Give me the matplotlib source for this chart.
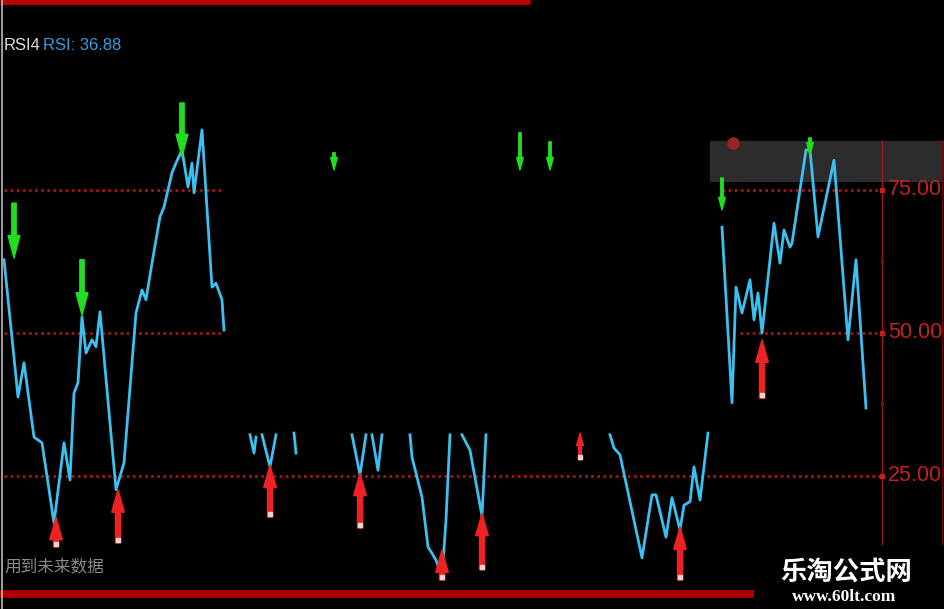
import numpy as np
import matplotlib
matplotlib.use('Agg')
from matplotlib import pyplot as plt
from matplotlib.patches import Rectangle

# RSI 折线 (每段之间断开)
seg_x = [
    [2, 8, 9, 12, 17, 21, 27, 32, 35, 37, 39, 41, 43, 46, 48, 50, 58, 62, 68, 71, 73, 76,
     80, 82, 86, 88, 91, 94, 96, 97, 101, 106, 108, 111, 112],
    [125, 127, 128],
    [131, 135, 138],
    [147, 148],
    [176, 180, 183],
    [186, 189, 191],
    [205, 206, 211, 214, 216, 218, 221, 223, 225],
    [231, 235, 241, 243],
    [305, 307, 310, 321, 326, 328, 333, 336, 340, 342, 345, 347, 350, 354],
    [361, 366, 368, 371, 375, 377, 379, 381, 387, 390, 392, 395, 396, 403, 405, 409, 417,
     424, 428, 433],
]
seg_y = [
    [62.8, 42.3, 38.8, 44.8, 31.8, 30.8, 16.8, 30.8, 24.3, 39.5, 41.3, 52.8, 46.5, 48.8, 47.6,
     53.7, 22.6, 27.3, 53.5, 57.5, 55.8, 62.2, 70.3, 72.0, 78.0, 79.7, 82.0, 75.5, 79.7, 74.5,
     85.5, 58.0, 58.7, 55.8, 50.5],
    [32.2, 29.0, 31.8],
    [32.2, 26.6, 32.2],
    [32.5, 29.0],
    [32.2, 25.2, 32.2],
    [32.2, 26.0, 32.2],
    [32.2, 28.3, 21.3, 12.6, 11.5, 10.3, 7.3, 17.3, 32.2],
    [32.2, 29.5, 18.0, 32.2],
    [32.2, 29.9, 28.7, 10.7, 21.7, 21.7, 14.3, 21.2, 15.6, 19.9, 20.5, 26.6, 20.8, 32.5],
    [68.5, 37.8, 58.0, 53.5, 59.3, 52.3, 57.0, 50.0, 69.2, 62.2, 68.0, 65.0, 65.7, 82.0, 82.0,
     66.8, 80.2, 48.8, 62.8, 36.88],
]

# 买入(红色向上) / 卖出(绿色向下) 箭头
buy_x = [28, 59, 135, 180, 221, 241, 290, 340, 381]
buy_tip = [17.8, 22.6, 26.9, 25.5, 12.1, 18.5, 32.5, 16.1, 48.8]
buy_tail = [12.6, 13.3, 17.8, 15.9, 6.8, 8.6, 27.8, 6.8, 38.6]

sell_x = [7, 41, 91, 167, 260, 275, 361, 405]
sell_tail = [72.7, 62.8, 90.2, 81.5, 85.0, 83.4, 77.1, 84.1]
sell_tip = [63.1, 53.1, 80.8, 78.5, 78.5, 78.5, 71.5, 81.1]

levels = [75, 50, 25]
level_labels = ['75.00', '50.00', '25.00']
last_rsi = 36.88

fig = plt.figure(figsize=(9.45, 6.09), dpi=100)
fig.patch.set_facecolor('black')
ax = fig.add_axes([0, 0, 1, 1])
ax.set_xlim(0, 472.5)
ax.set_ylim(1.75, 108.2)
ax.axis('off')

dred = '#a01818'
dots = (0, (1, 1.2))

# 参考线
ax.hlines(75, 2, 112, colors=dred, lw=2, linestyles=dots)
ax.hlines(75, 361, 441, colors=dred, lw=2, linestyles=dots)
ax.hlines(50, 2, 112, colors=dred, lw=2, linestyles=dots)
ax.hlines(50, 370, 441, colors=dred, lw=2, linestyles=dots)
ax.hlines(25, 2, 441, colors=dred, lw=2, linestyles=dots)

# 右侧坐标
ax.vlines(441, 12.9, 83.7, colors=dred, lw=1)
ax.vlines(471, 12.9, 83.7, colors='#5a0c0c', lw=1)
ax.plot([441] * 3, levels, 's', color='#c02020', ms=3)
ax.plot([441, 441], [62.5, 37.5], 's', color='#701010', ms=2)
for lv, lb in zip(levels, level_labels):
    ax.text(444, lv, lb, color='#c22222', fontsize=15.5, va='center', ha='left',
            family=['Liberation Sans', 'DejaVu Sans'])

# 顶部灰色区
ax.add_patch(Rectangle((355, 76.6), 117.5, 7, color='#2c2c2c', zorder=1))
gx = np.arange(380, 470, 8)
ax.plot(gx, [83.2] * len(gx), 's', color='#5a1515', ms=2, zorder=2)
ax.plot([366.5], [83.2], 'o', color='#9a2424', ms=8, zorder=2)

# 红色粗线
ax.hlines(107.8, 0, 265, colors='#c00000', lw=3.5)
ax.hlines(4.4, 0, 377, colors='#b00000', lw=5.5)
ax.vlines(1, 1.75, 108.2, colors='#bbbbbb', lw=1.2)

# RSI 线
for xs, ys in zip(seg_x, seg_y):
    ax.plot(xs, ys, color='#3cc0f0', lw=2.0, zorder=3)

# 箭头
for x, t0, t1 in zip(buy_x, buy_tail, buy_tip):
    ms = 9 if abs(t1 - t0) > 5 else 5
    ax.annotate('', xy=(x, t1), xytext=(x, t0),
                arrowprops=dict(arrowstyle='simple,head_length=1.8,head_width=1.0,tail_width=0.4',
                                color='#ee2222', shrinkA=0, shrinkB=0, mutation_scale=ms), zorder=4)
    ax.plot([x], [t0 + 0.5], 's', color='#f0d0d0', ms=3, zorder=5)

for x, t0, t1 in zip(sell_x, sell_tail, sell_tip):
    ms = 9 if abs(t1 - t0) > 7 else 5
    ax.annotate('', xy=(x, t1), xytext=(x, t0),
                arrowprops=dict(arrowstyle='simple,head_length=1.8,head_width=0.95,tail_width=0.35',
                                color='#22dd22', shrinkA=0, shrinkB=0, mutation_scale=ms), zorder=4)

# 文字
ax.text(0.004, 0.925, 'RSI4', transform=ax.transAxes, color='#dddddd', fontsize=12,
        va='center', ha='left', family=['Liberation Sans', 'DejaVu Sans'])
ax.text(0.046, 0.925, 'RSI: %.2f' % last_rsi, transform=ax.transAxes, color='#2f9fe0',
        fontsize=12, va='center', ha='left', family=['Liberation Sans', 'DejaVu Sans'])
ax.text(0.005, 0.07, '用到未来数据', transform=ax.transAxes, color='#8a8a8a', fontsize=12,
        va='center', ha='left', family=['Noto Sans CJK SC', 'DejaVu Sans'], zorder=2)

ax.text(0.895, 0.06, '乐淘公式网', transform=ax.transAxes, color='white', fontsize=19,
        fontweight='bold', va='center', ha='center', family=['Noto Sans CJK SC', 'DejaVu Sans'])
ax.text(0.893, 0.02, 'www.60lt.com', transform=ax.transAxes, color='white', fontsize=12.5,
        fontweight='bold', va='center', ha='center', family=['Liberation Serif', 'DejaVu Serif'])

fig.savefig('out.png', dpi=100, facecolor='black')
